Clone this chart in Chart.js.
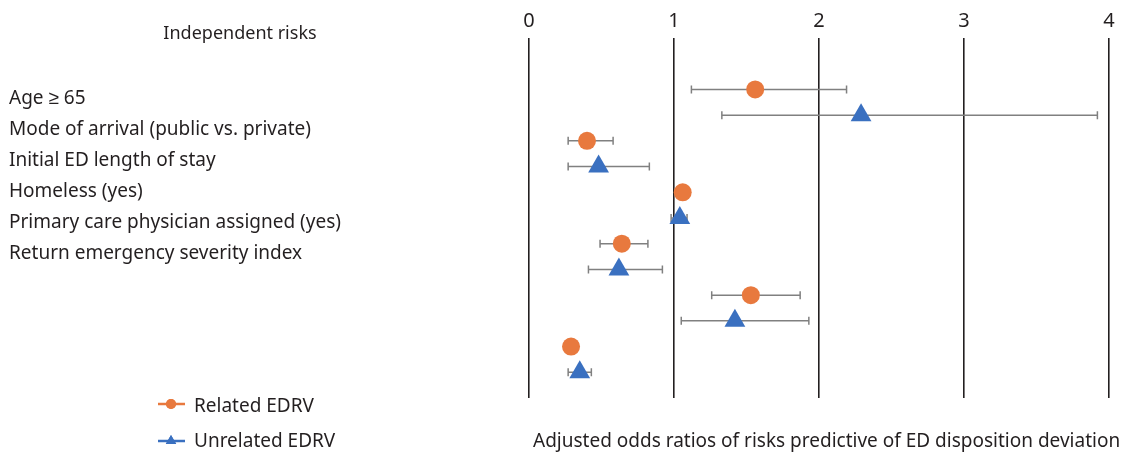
<!DOCTYPE html>
<html>
<head>
<meta charset="utf-8">
<script src="https://cdn.jsdelivr.net/npm/chart.js@4/dist/chart.umd.min.js"></script>
<style>
  body { margin: 0; background: #fff; }
  #wrap { position: relative; width: 1121px; height: 452px; font-family: "Noto Sans", sans-serif; color: #231f20; }
  #wrap canvas { position: absolute; left: 0; top: 0; }
  .txt { position: absolute; font-size: 19px; line-height: 20px; white-space: nowrap; transform: translateY(-50%); }
</style>
</head>
<body>
<div id="wrap">
  <canvas id="forest" width="1121" height="452"></canvas>
  <div id="labels"></div>
</div>
<script>
// Risk factors (left text list)
const riskLabels = [
    "Age \u2265 65",
    "Mode of arrival (public vs. private)",
    "Initial ED length of stay",
    "Homeless (yes)",
    "Primary care physician assigned (yes)",
    "Return emergency severity index"
];
const xTicks = [0, 1, 2, 3, 4];

// Odds ratios + 95% CI
const relatedOR = [1.56, 0.40, 1.06, 0.64, 1.53, 0.29];
const relatedLo = [1.12, 0.27, null, 0.49, 1.26, null];
const relatedHi = [2.19, 0.58, null, 0.82, 1.87, null];
const unrelatedOR = [2.29, 0.48, 1.04, 0.62, 1.42, 0.35];
const unrelatedLo = [1.33, 0.27, 0.98, 0.41, 1.05, 0.27];
const unrelatedHi = [3.92, 0.83, 1.09, 0.92, 1.93, 0.43];

const orange = "#e8793e";
const blue = "#3a70c0";

// Text bits in html
const labelsEl = document.getElementById("labels");
function addText(str, left, top, extra) {
    const d = document.createElement("div");
    d.className = "txt";
    d.textContent = str;
    d.style.left = left + "px";
    d.style.top = top + "px";
    if (extra) Object.assign(d.style, extra);
    labelsEl.appendChild(d);
}
addText("Independent risks", 240, 32, { transform: "translate(-50%,-50%)", fontSize: "18px" });
riskLabels.forEach((l, i) => addText(l, 9, 97 + i * 31));
addText("Related EDRV", 194, 405);
addText("Unrelated EDRV", 194, 440);
addText("Adjusted odds ratios of risks predictive of ED disposition deviation", 533, 440);

// Each risk gets two rows: related then unrelated
const relatedPts = relatedOR.map((v, i) => ({ x: v, y: i * 2 + 1, lo: relatedLo[i], hi: relatedHi[i] }));
const unrelatedPts = unrelatedOR.map((v, i) => ({ x: v, y: i * 2 + 2, lo: unrelatedLo[i], hi: unrelatedHi[i] }));

// Draw CI whiskers under the markers
const errorBars = {
    id: "errorBars",
    beforeDatasetsDraw(chart) {
        const { ctx, scales: { x, y } } = chart;
        ctx.save();
        ctx.strokeStyle = "#808080";
        ctx.lineWidth = 1.5;
        chart.data.datasets.forEach(ds => {
            ds.data.forEach(p => {
                if (p.lo == null) return;
                const yy = y.getPixelForValue(p.y);
                const x1 = x.getPixelForValue(p.lo), x2 = x.getPixelForValue(p.hi);
                ctx.beginPath();
                ctx.moveTo(x1, yy); ctx.lineTo(x2, yy);
                ctx.moveTo(x1, yy - 4); ctx.lineTo(x1, yy + 4);
                ctx.moveTo(x2, yy - 4); ctx.lineTo(x2, yy + 4);
                ctx.stroke();
            });
        });
        ctx.restore();
    }
};

// Legend markers bottom left
const legendMarks = {
    id: "legendMarks",
    afterDraw(chart) {
        const ctx = chart.ctx;
        const rows = [{ y: 404, color: orange, style: "circle", r: 5 }, { y: 441, color: blue, style: "triangle", r: 6 }];
        rows.forEach(r => {
            ctx.save();
            ctx.strokeStyle = r.color;
            ctx.lineWidth = 2.5;
            ctx.beginPath();
            ctx.moveTo(158, r.y); ctx.lineTo(185, r.y);
            ctx.stroke();
            ctx.fillStyle = r.color;
            Chart.helpers.drawPoint(ctx, { pointStyle: r.style, radius: r.r, borderWidth: 0, rotation: 0 }, 171, r.y);
            ctx.fill();
            ctx.restore();
        });
    }
};

new Chart(document.getElementById("forest"), {
    type: "scatter",
    data: {
        datasets: [
            { label: "Related EDRV", data: relatedPts, pointStyle: "circle", pointRadius: 9, backgroundColor: orange, borderColor: orange, borderWidth: 0 },
            { label: "Unrelated EDRV", data: unrelatedPts, pointStyle: "triangle", pointRadius: 12, backgroundColor: blue, borderColor: blue, borderWidth: 0 }
        ]
    },
    options: {
        responsive: false,
        animation: false,
        layout: { padding: { left: 529, right: 11, top: 0, bottom: 54 } },
        plugins: { legend: { display: false }, tooltip: { enabled: false } },
        scales: {
            x: {
                position: "top",
                min: 0, max: 4,
                afterBuildTicks: s => { s.ticks = xTicks.map(v => ({ value: v })); },
                afterFit: s => { s.height = 38; },
                ticks: { color: "#231f20", font: { family: "Noto Sans", size: 20 }, padding: 5 },
                grid: { color: "#231f20", lineWidth: 1.6, drawTicks: false },
                border: { display: false }
            },
            y: {
                display: false,
                reverse: true,
                min: -1, max: 13
            }
        }
    },
    plugins: [errorBars, legendMarks]
});
</script>
</body>
</html>
